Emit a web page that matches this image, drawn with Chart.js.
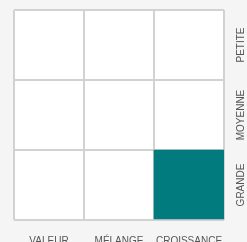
<!DOCTYPE html>
<html><head><meta charset="utf-8">
<script src="https://cdn.jsdelivr.net/npm/chart.js@4/dist/chart.umd.min.js"></script>
<style>html,body{margin:0;padding:0;background:#f5f5f5;}#wrap{width:247px;height:242px;position:relative;}</style>
</head><body><div id="wrap"><canvas id="c" width="247" height="242"></canvas></div>
<script>
const styleLabels = ['VALEUR', 'MÉLANGE', 'CROISSANCE'];
const sizeLabels = ['GRANDE', 'MOYENNE', 'PETITE'];
// filled cell per style column: [from,to] in size rows (0 = GRANDE)
const filledCells = [null, null, [0, 1]];

const bgPlugin = {
  id: 'bg',
  beforeDraw(chart) {
    const {ctx, chartArea: a} = chart;
    ctx.save();
    ctx.fillStyle = '#f5f5f5';
    ctx.fillRect(0, 0, chart.width, chart.height);
    ctx.fillStyle = '#ffffff';
    ctx.fillRect(a.left, a.top, a.right - a.left, a.bottom - a.top);
    ctx.restore();
  },
  afterDraw(chart) {
    const {ctx} = chart;
    const y = chart.scales.y;
    ctx.save();
    ctx.fillStyle = '#555555';
    ctx.font = '10px "Liberation Sans", Arial, sans-serif';
    ctx.textAlign = 'center';
    ctx.textBaseline = 'middle';
    sizeLabels.forEach((l, i) => {
      const py = y.getPixelForValue(i + 0.5);
      ctx.save();
      ctx.translate(241, py);
      ctx.rotate(-Math.PI / 2);
      ctx.fillText(l, 0, 0);
      ctx.restore();
    });
    ctx.restore();
  }
};

new Chart(document.getElementById('c'), {
  type: 'bar',
  data: {
    labels: styleLabels,
    datasets: [{
      data: filledCells,
      backgroundColor: '#027b7f',
      borderWidth: 0,
      barPercentage: 1,
      categoryPercentage: 1
    }]
  },
  options: {
    responsive: false,
    animation: false,
    events: [],
    layout: {padding: {left: 14, top: 10, right: 0, bottom: 0}},
    plugins: {legend: {display: false}, tooltip: {enabled: false}},
    scales: {
      x: {
        type: 'category',
        grid: {color: '#d2d2d2', lineWidth: 2, drawTicks: false, offset: true},
        border: {display: false},
        ticks: {color: '#555555', font: {family: '"Liberation Sans", Arial, sans-serif', size: 10}, padding: 15, maxRotation: 0, autoSkip: false},
        afterFit(s) { s.height = 22; }
      },
      y: {
        position: 'right',
        min: 0, max: 3,
        ticks: {stepSize: 1, display: false},
        grid: {color: '#d2d2d2', lineWidth: 2, drawTicks: false},
        border: {display: false},
        afterFit(s) { s.width = 23; }
      }
    }
  },
  plugins: [bgPlugin]
});
</script></body></html>
